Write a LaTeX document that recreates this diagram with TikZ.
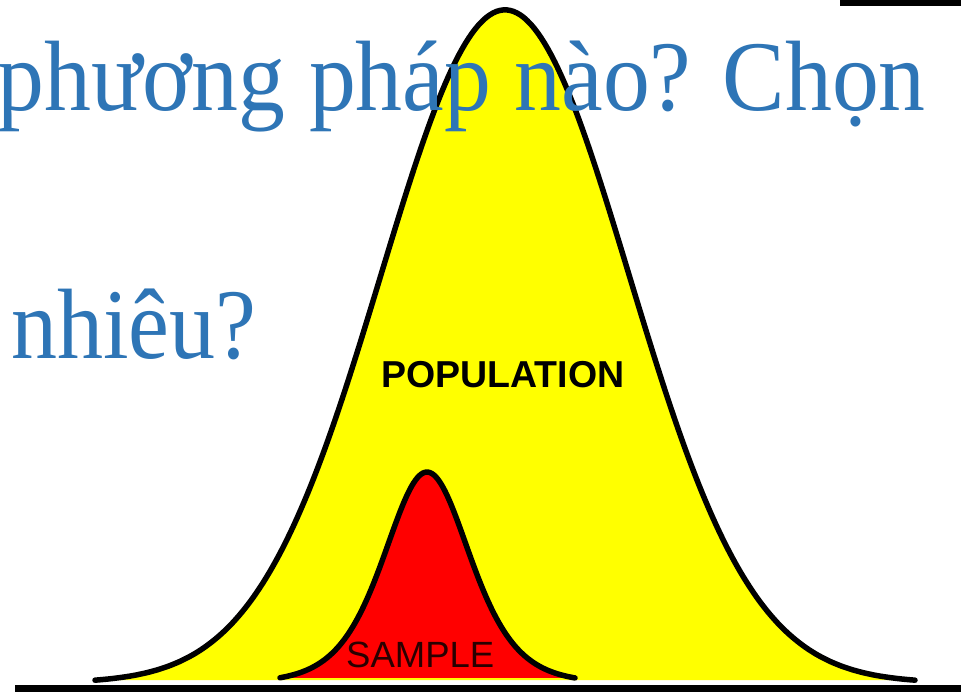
\documentclass[tikz,border=0pt]{standalone}
\usepackage{fontspec}
\usepackage{graphicx}
\setmainfont{Liberation Serif}
\newfontfamily\arialfont{Liberation Sans}
\definecolor{titleblue}{HTML}{2E75B6}
\definecolor{popyellow}{HTML}{FFFF00}
\definecolor{samplered}{HTML}{FF0000}
\definecolor{sampletext}{HTML}{2A0000}
\tikzset{
  curveline/.style={line width=5.5pt, line join=round, line cap=round},
  bigtext/.style={inner sep=0pt, text=titleblue, font=\fontsize{100}{110}\selectfont},
  curvelabel/.style={inner sep=0pt, font=\arialfont\fontsize{36.5}{40}\selectfont}
}
\begin{document}
\begin{tikzpicture}[x=1pt, y=-1pt]
\useasboundingbox (0,0) rectangle (961,691);
\fill[white] (0,0) rectangle (961,691);
% population curve
\fill[popyellow] plot[domain=95:915, samples=240] (\x, {683-673*exp(-((\x-505)/124)^2/2)}) -- cycle;
\draw[curveline] plot[domain=95:915, samples=240] (\x, {683-673*exp(-((\x-505)/124)^2/2)});
% sample curve (sech^2 profile)
\fill[samplered] plot[domain=280:575, samples=160] (\x, {683-211*4/(exp((\x-427)/58)+exp(-(\x-427)/58))^2}) -- cycle;
\draw[curveline] plot[domain=280:575, samples=160] (\x, {683-211*4/(exp((\x-427)/58)+exp(-(\x-427)/58))^2});
% baseline
\coordinate (bl) at (15,688);
\coordinate (br) at (961,688);
\draw[line width=7pt] (bl) -- (br);
\coordinate (tl) at (840,3);
\coordinate (tr) at (961,3);
\draw[line width=6pt] (tl) -- (tr);
% labels
\node[curvelabel, font=\arialfont\bfseries\fontsize{37.5}{40}\selectfont, anchor=base west] (pop) at (381,387) {POPULATION};
\node[curvelabel, text=sampletext, anchor=base west] (samp) at (346,667) {SAMPLE};
% title text
\node[bigtext, anchor=base east] (t1) at (926,110) {\scalebox{0.937}[1]{phương pháp nào? Chọn}};
\node[bigtext, anchor=base west] (t2) at (11,358) {\scalebox{0.92}[1]{nhiêu?}};
\end{tikzpicture}
\end{document}
